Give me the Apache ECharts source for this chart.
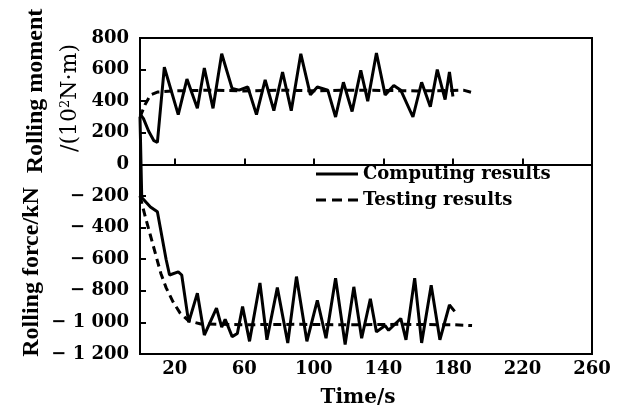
<!DOCTYPE html>
<html>
<head>
<meta charset="utf-8">
<script src="https://cdn.jsdelivr.net/npm/echarts@6/dist/echarts.min.js"></script>
<style>
  html, body { margin: 0; padding: 0; background: #fff; }
  #chart { width: 618px; height: 414px; }
</style>
</head>
<body>
<div id="chart"></div>
<script>
// rolling moment, computing (solid) and testing (dashed)
const momentCalcT = [0, 2, 5, 8, 10, 14, 22, 27, 33, 37, 42, 47, 53, 57, 62, 67, 72, 77, 82, 87, 92.5, 98, 102, 108, 112.5, 117, 122, 127, 131, 136, 141, 146, 150, 157, 162, 167, 171, 175.5, 178, 180]
const momentCalcV = [320, 290, 210, 150, 140, 615, 315, 540, 355, 610, 355, 700, 480, 470, 490, 315, 535, 340, 585, 340, 700, 440, 490, 470, 300, 520, 335, 595, 400, 705, 440, 500, 470, 300, 520, 365, 600, 410, 585, 430]
const momentTestT = [0, 3, 6, 10, 20, 40, 60, 80, 100, 120, 140, 160, 180, 186, 191]
const momentTestV = [300, 380, 440, 458, 465, 470, 465, 470, 466, 470, 468, 465, 468, 470, 455]

// rolling force, computing (solid) and testing (dashed)
const forceCalcT = [0, 1, 6, 10, 15, 17, 22, 24, 28, 33, 37, 44, 47, 49, 53, 56, 59, 63, 69, 73, 79, 85, 90, 96, 102, 107, 112.5, 118, 123, 127.5, 132.5, 136, 141, 143, 150, 153, 158, 162, 167.5, 172.5, 178, 181]
const forceCalcV = [300, -210, -270, -300, -600, -700, -680, -700, -1000, -815, -1080, -910, -1030, -980, -1090, -1070, -900, -1120, -750, -1110, -780, -1130, -710, -1120, -860, -1100, -720, -1140, -775, -1100, -850, -1060, -1020, -1050, -975, -1110, -720, -1130, -765, -1110, -890, -930]
const forceTestT = [0, 3, 6, 9, 12, 15, 19, 23, 28, 35, 60, 90, 120, 150, 180, 191]
const forceTestV = [-200, -330, -450, -570, -690, -780, -870, -940, -990, -1010, -1015, -1012, -1015, -1012, -1015, -1020]

const xTicks = [20, 60, 100, 140, 180, 220, 260]

const pairs = (t, v) => t.map((x, i) => [x, v[i]])

const wide = 'DejaVu Serif'
const chart = echarts.init(document.getElementById('chart'))

function yLabel(v) {
  if (v === 0) return '0'
  const a = Math.abs(v)
  const s = a >= 1000 ? Math.floor(a / 1000) + ' ' + String(a % 1000).padStart(3, '0') : String(a)
  return v < 0 ? '\u2212 ' + s : s
}

const solid = { color: '#000', width: 3 }
const dashed = { color: '#000', width: 3, type: [8, 5] }

chart.setOption({
  animation: false,
  backgroundColor: '#fff',
  grid: {
    left: 140, right: 26, top: 38, bottom: 60,
    show: true, borderColor: '#000', borderWidth: 2
  },
  legend: {
    orient: 'vertical',
    left: 311,
    top: 160,
    itemWidth: 42,
    itemHeight: 3,
    itemGap: 8,
    itemStyle: { borderWidth: 0 },
    lineStyle: { width: 0 },
    data: [
      { name: 'Computing results', icon: 'path://M0,0h42v3h-42z' },
      { name: 'Testing results', icon: 'path://M0,0h10v3h-10zM16,0h10v3h-10zM32,0h10v3h-10z' }
    ],
    textStyle: { fontFamily: wide, fontWeight: 'bold', fontSize: 18, color: '#000' }
  },
  xAxis: {
    type: 'value',
    min: 0,
    max: 260,
    axisLine: { lineStyle: { color: '#000', width: 2 } },
    axisTick: { inside: true, length: 6, customValues: xTicks, lineStyle: { color: '#000', width: 2 } },
    axisLabel: { customValues: xTicks, margin: 6, fontFamily: wide, fontWeight: 'bold', fontSize: 18, color: '#000' },
    splitLine: { show: false },
    name: 'Time/s',
    nameLocation: 'middle',
    nameGap: 34,
    nameTextStyle: { fontFamily: wide, fontWeight: 'bold', fontSize: 20, color: '#000', padding: [0, 16, 0, 0] }
  },
  yAxis: {
    type: 'value',
    min: -1200,
    max: 800,
    interval: 200,
    axisLine: { lineStyle: { color: '#000', width: 2 } },
    axisTick: { inside: true, length: 6, lineStyle: { color: '#000', width: 2 } },
    axisLabel: { formatter: yLabel, margin: 11, fontFamily: wide, fontWeight: 'bold', fontSize: 18, color: '#000' },
    splitLine: { show: false }
  },
  graphic: [
    {
      type: 'text', x: 32, y: 272, rotation: Math.PI / 2,
      style: { text: 'Rolling force/kN', fill: '#000', font: 'bold 24px "Liberation Serif"', align: 'center', verticalAlign: 'middle' }
    },
    {
      type: 'text', x: 36, y: 91, rotation: Math.PI / 2,
      style: { text: 'Rolling moment', fill: '#000', font: 'bold 24px "Liberation Serif"', align: 'center', verticalAlign: 'middle' }
    },
    {
      type: 'text', x: 70, y: 98, rotation: Math.PI / 2,
      style: {
        text: '/(10{s|2}N\u00b7m)',
        fill: '#000', font: '22px "DejaVu Serif"', align: 'center', verticalAlign: 'middle',
        rich: { s: { fontSize: 13, verticalAlign: 'top', padding: [0, 0, 8, 0], fontFamily: wide, fill: '#000' } }
      }
    }
  ],
  series: [
    { name: 'Computing results', type: 'line', symbol: 'none', data: pairs(momentCalcT, momentCalcV), lineStyle: solid, itemStyle: { color: '#000' } },
    { name: 'Testing results', type: 'line', symbol: 'none', data: pairs(momentTestT, momentTestV), lineStyle: dashed, itemStyle: { color: '#000' } },
    { name: 'Computing results', type: 'line', symbol: 'none', data: pairs(forceCalcT, forceCalcV), lineStyle: solid, itemStyle: { color: '#000' } },
    { name: 'Testing results', type: 'line', symbol: 'none', data: pairs(forceTestT, forceTestV), lineStyle: dashed, itemStyle: { color: '#000' } }
  ]
})
</script>
</body>
</html>
